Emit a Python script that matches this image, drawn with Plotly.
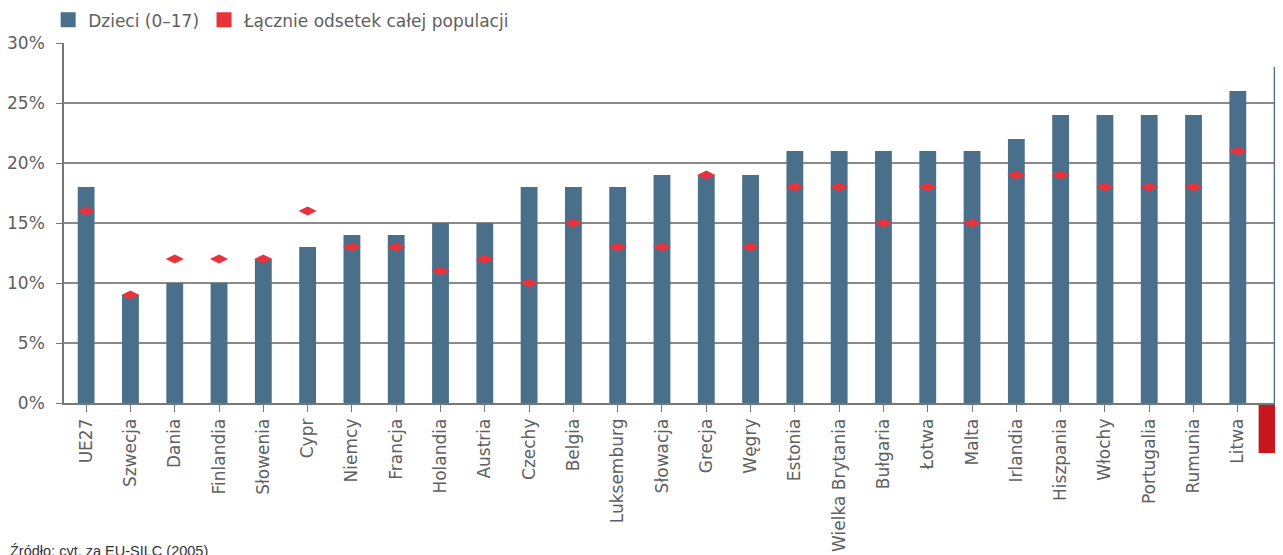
import plotly.graph_objects as go

countries = ["UE27", "Szwecja", "Dania", "Finlandia", "Słowenia", "Cypr", "Niemcy", "Francja",
             "Holandia", "Austria", "Czechy", "Belgia", "Luksemburg", "Słowacja", "Grecja", "Węgry",
             "Estonia", "Wielka Brytania", "Bułgaria", "Łotwa", "Malta", "Irlandia", "Hiszpania",
             "Włochy", "Portugalia", "Rumunia", "Litwa", "Polska"]
children = [18, 9, 10, 10, 12, 13, 14, 14, 15, 15, 18, 18, 18, 19, 19, 19, 21, 21, 21, 21, 21,
            22, 24, 24, 24, 24, 26, 28]
total = [16, 9, 12, 12, 12, 16, 13, 13, 11, 12, 10, 15, 13, 13, 19, 13, 18, 18, 15, 18, 15,
         19, 19, 18, 18, 18, 21, 20]
y_ticks = [0, 5, 10, 15, 20, 25, 30]
y_tick_labels = ["0%", "5%", "10%", "15%", "20%", "25%", "30%"]

BLUE = "#4a6f8a"
RED = "#e8333c"
GREY = "#606060"
FONT = "DejaVu Sans"

xs = list(range(len(countries)))
ticktext = [('<span style="color:white">' + c + '</span>') if c == "Polska" else c for c in countries]

fig = go.Figure()
fig.add_trace(go.Bar(x=xs, y=children, marker=dict(color=BLUE, line=dict(width=0)),
                     name="Dzieci (0–17)", showlegend=False))
fig.add_trace(go.Scatter(x=xs, y=total, mode="markers", showlegend=False,
                         marker=dict(symbol="diamond-wide", color=RED, size=13, line=dict(width=0)),
                         name="Łącznie odsetek całej populacji"))
fig.add_trace(go.Scatter(x=[None], y=[None], mode="markers",
                         marker=dict(symbol="square", color=BLUE, size=15, line=dict(width=0)),
                         name="Dzieci (0–17)"))
fig.add_trace(go.Scatter(x=[None], y=[None], mode="markers",
                         marker=dict(symbol="square", color=RED, size=15, line=dict(width=0)),
                         name="Łącznie odsetek całej populacji"))

fig.add_shape(type="rect", xref="paper", yref="paper", x0=0.980, x1=1.05, y0=0, y1=-0.139,
              fillcolor="#c8161d", line=dict(width=0), layer="below")

fig.add_annotation(text="Źródło: cyt. za EU-SILC (2005)", xref="paper", yref="paper",
                   x=-0.046, y=-0.383, xanchor="left", yanchor="top", showarrow=False,
                   font=dict(family="Liberation Sans", size=14.5, color="#333333"))

fig.update_layout(
    width=1275, height=547,
    margin=dict(l=56, r=0, t=35, b=152, pad=0, autoexpand=False),
    paper_bgcolor="white", plot_bgcolor="white",
    bargap=0.62,
    font=dict(family=FONT, size=17, color=GREY),
    showlegend=True,
    legend=dict(orientation="h", x=-0.013, y=1.063, xanchor="left", yanchor="middle",
                font=dict(family=FONT, size=17, color=GREY), itemwidth=30,
                traceorder="normal", bgcolor="rgba(0,0,0,0)"),
    xaxis=dict(range=[-0.5, 27.02], tickmode="array", tickvals=xs, ticktext=ticktext,
               tickangle=-90, tickson="boundaries", ticks="outside", ticklen=7,
               tickcolor="#777777", showline=True, linecolor="#777777", linewidth=1.5,
               showgrid=False, automargin=False,
               tickfont=dict(family=FONT, size=17, color=GREY)),
    yaxis=dict(range=[0, 30], tickmode="array", tickvals=y_ticks, ticktext=y_tick_labels,
               ticks="outside", ticklen=6, tickcolor="#777777", showgrid=True,
               gridcolor="#8a8a8a", gridwidth=1.5, showline=True, linecolor="#777777",
               linewidth=1.5, zeroline=False, automargin=False, ticklabelstandoff=8,
               tickfont=dict(family=FONT, size=17, color=GREY)),
)

fig.write_html("out.html")
